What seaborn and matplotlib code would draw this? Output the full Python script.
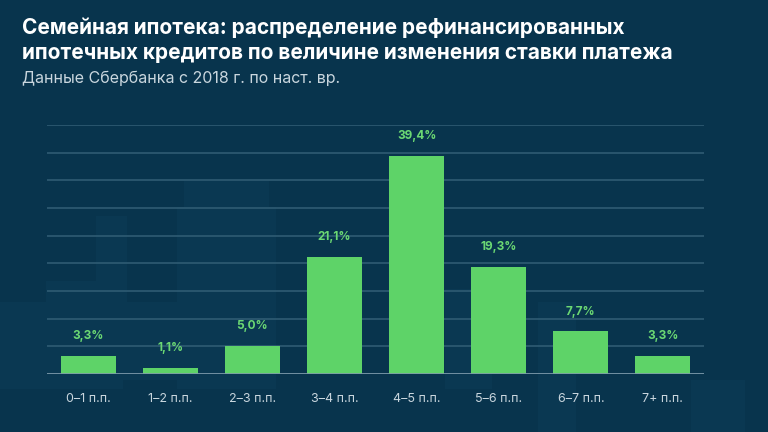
#!/usr/bin/env python3

from matplotlib import pyplot as plt
from matplotlib.patches import Rectangle
import numpy as np
import seaborn as sns

BG = '#08344d'
GREEN = '#5ed368'

categories = ['0–1 п.п.', '1–2 п.п.', '2–3 п.п.', '3–4 п.п.',
              '4–5 п.п.', '5–6 п.п.', '6–7 п.п.', '7+ п.п.']
shares = [3.3, 1.1, 5.0, 21.1, 39.4, 19.3, 7.7, 3.3]
share_labels = ['3,3%', '1,1%', '5,0%', '21,1%', '39,4%', '19,3%', '7,7%', '3,3%']

sns.set_style('dark')
plt.rcParams['font.family'] = ['Inter', 'DejaVu Sans']

fig = plt.figure(figsize=(7.68, 4.32), dpi=100, facecolor=BG)

# faint decorative blocks in the background
for x, y, w, h in [(0.0, 0.10, 0.06, 0.20), (0.06, 0.10, 0.10, 0.25),
                   (0.125, 0.20, 0.04, 0.30), (0.16, 0.12, 0.07, 0.18),
                   (0.23, 0.10, 0.13, 0.42), (0.24, 0.52, 0.11, 0.06),
                   (0.58, 0.10, 0.06, 0.23), (0.70, 0.0, 0.05, 0.30),
                   (0.90, 0.0, 0.07, 0.12)]:
    fig.patches.append(Rectangle((x, y), w, h, transform=fig.transFigure,
                                 facecolor='#0a3852', edgecolor='none',
                                 zorder=-10))

ax = fig.add_axes([47 / 768, 58 / 432, 657 / 768, 249 / 432])
ax.set_facecolor('none')

sns.barplot(x=categories, y=shares, color=GREEN, width=0.67, saturation=1,
            linewidth=0, ax=ax, zorder=3)

for i, (v, lab) in enumerate(zip(shares, share_labels)):
    ax.annotate(lab, (i, v), xytext=(0, 10), textcoords='offset points',
                ha='center', va='bottom', color='#6bd873', fontsize=8.5,
                fontweight='bold')

ax.set_ylim(0, 45)
ax.set_yticks(np.arange(0, 46, 5))
ax.set_yticklabels([])
ax.tick_params(axis='y', length=0)
ax.tick_params(axis='x', length=0, pad=14, labelsize=9, labelcolor='#c9d6de')
ax.grid(axis='y', color='#2f5b73', linewidth=1.2, zorder=0)
ax.grid(axis='x', visible=False)
ax.axhline(0, color='#7e9aab', linewidth=1.2, zorder=4)
ax.set_xlim(-0.5, len(categories) - 0.5)
for s in ax.spines.values():
    s.set_visible(False)

fig.text(22 / 768, 1 - 28 / 432, 'Семейная ипотека: распределение рефинансированных',
         color='white', fontsize=15, fontweight='bold', va='center')
fig.text(22 / 768, 1 - 53 / 432, 'ипотечных кредитов по величине изменения ставки платежа',
         color='white', fontsize=15, fontweight='bold', va='center')
fig.text(22 / 768, 1 - 78 / 432, 'Данные Сбербанка с 2018 г. по наст. вр.',
         color='#c9d6de', fontsize=11.5, va='center')

plt.savefig('out.png', dpi=100, facecolor=BG)
